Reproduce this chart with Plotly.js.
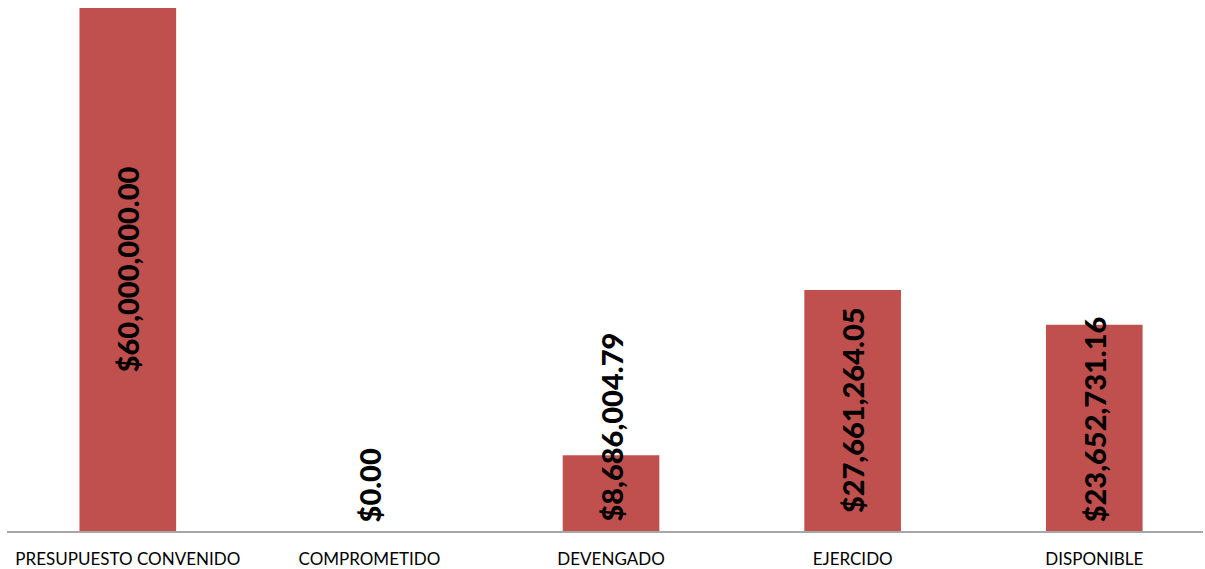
<!DOCTYPE html>
<html><head><meta charset="utf-8">
<script src="https://cdn.plot.ly/plotly-3.0.1.min.js"></script>
<style>html,body{margin:0;padding:0;background:#fff}#chart{width:1205px;height:569px}</style>
</head><body><div id="chart"></div>
<script>
const categories = ["PRESUPUESTO CONVENIDO", "COMPROMETIDO", "DEVENGADO", "EJERCIDO", "DISPONIBLE"];
const values = [60000000.00, 0.00, 8686004.79, 27661264.05, 23652731.16];
const labels = ["$60,000,000.00", "$0.00", "$8,686,004.79", "$27,661,264.05", "$23,652,731.16"];

const H = 569, mt = 8, mb = 38;
const plotH = H - mt - mb;
const yMax = 60000000;
const annotations = labels.map((t, i) => {
  const barPx = values[i] / yMax * plotH;
  const labelPx = t.length * 14.6;
  const centered = barPx >= labelPx + 10;
  return {
    x: categories[i], xref: 'x', yref: 'y',
    y: centered ? values[i] / 2 : 0,
    yanchor: centered ? 'middle' : 'bottom',
    yshift: centered ? 0 : 7,
    text: t, textangle: -90, showarrow: false,
    font: {family: 'Lato, "Open Sans", sans-serif', size: 29, weight: 900, color: '#000'}
  };
});

Plotly.newPlot('chart', [{
  type: 'bar', x: categories, y: values, width: 0.4,
  marker: {color: '#C0504D'}, hoverinfo: 'none'
}], {
  width: 1205, height: H,
  margin: {l: 7, r: 2, t: mt, b: mb},
  paper_bgcolor: '#fff', plot_bgcolor: '#fff',
  showlegend: false,
  xaxis: {type: 'category', range: [-0.5, 4.45], showline: true, linecolor: '#A6A6A6', linewidth: 1.5,
    ticks: '', ticklabelstandoff: 12,
    tickfont: {family: 'Lato, "Open Sans", sans-serif', size: 17, color: '#000'}, fixedrange: true},
  yaxis: {range: [0, yMax], visible: false, showgrid: false, zeroline: false, fixedrange: true},
  annotations: annotations
}, {displayModeBar: false, staticPlot: true});
</script></body></html>
